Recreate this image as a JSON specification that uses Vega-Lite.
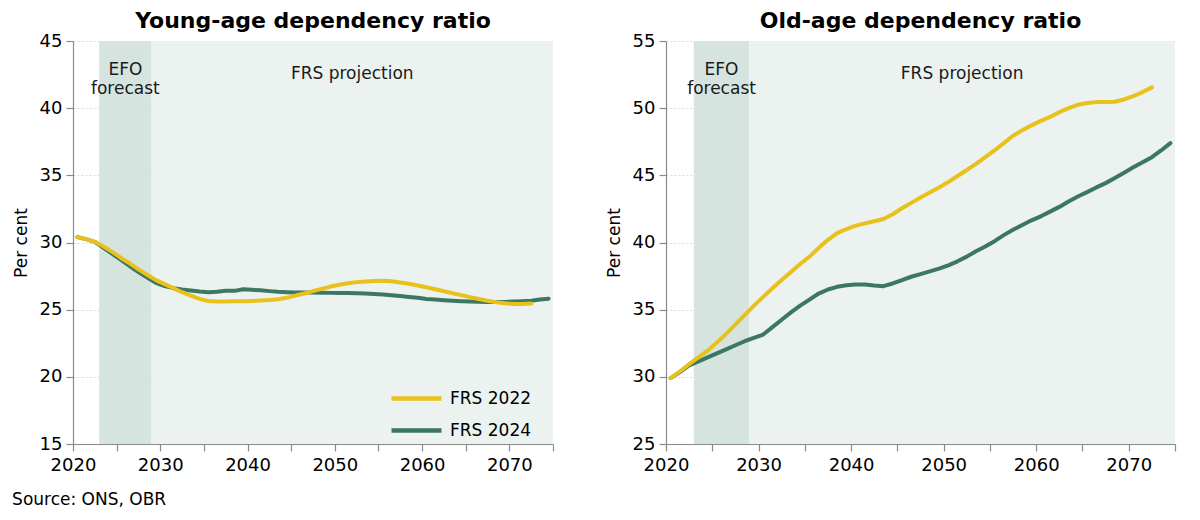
{
  "$schema": "https://vega.github.io/schema/vega-lite/v6.json",
  "background": "white",
  "padding": {"left": 12, "top": 10, "right": 14, "bottom": 4},
  "title": {"text": "Source: ONS, OBR", "orient": "bottom", "anchor": "start", "frame": "bounds", "fontSize": 17, "fontWeight": "normal", "font": "DejaVu Sans", "color": "#000000", "offset": 18},
  "datasets": {
    "bands": [
      {"band": "EFO forecast", "start": 2023, "end": 2029},
      {"band": "FRS projection", "start": 2029, "end": 2075}
    ],
    "labels": [
      {"label": ["EFO", "forecast"], "year": 2026, "young": 42.85, "old": 52.85},
      {"label": ["FRS projection"], "year": 2052, "young": 42.55, "old": 52.55}
    ],
    "young": [
      {"series": "FRS 2024", "year": 2020.5, "value": 30.4},
      {"series": "FRS 2024", "year": 2021.5, "value": 30.25},
      {"series": "FRS 2024", "year": 2022.5, "value": 30.05},
      {"series": "FRS 2024", "year": 2023.5, "value": 29.6},
      {"series": "FRS 2024", "year": 2024.5, "value": 29.15},
      {"series": "FRS 2024", "year": 2025.5, "value": 28.7},
      {"series": "FRS 2024", "year": 2026.5, "value": 28.25},
      {"series": "FRS 2024", "year": 2027.5, "value": 27.8},
      {"series": "FRS 2024", "year": 2028.5, "value": 27.4},
      {"series": "FRS 2024", "year": 2029.5, "value": 27.0},
      {"series": "FRS 2024", "year": 2030.5, "value": 26.75},
      {"series": "FRS 2024", "year": 2031.5, "value": 26.6},
      {"series": "FRS 2024", "year": 2032.5, "value": 26.5},
      {"series": "FRS 2024", "year": 2033.5, "value": 26.42},
      {"series": "FRS 2024", "year": 2034.5, "value": 26.35},
      {"series": "FRS 2024", "year": 2035.5, "value": 26.3},
      {"series": "FRS 2024", "year": 2036.5, "value": 26.33},
      {"series": "FRS 2024", "year": 2037.5, "value": 26.4},
      {"series": "FRS 2024", "year": 2038.5, "value": 26.4},
      {"series": "FRS 2024", "year": 2039.5, "value": 26.52},
      {"series": "FRS 2024", "year": 2040.5, "value": 26.48},
      {"series": "FRS 2024", "year": 2041.5, "value": 26.44},
      {"series": "FRS 2024", "year": 2042.5, "value": 26.38},
      {"series": "FRS 2024", "year": 2043.5, "value": 26.33},
      {"series": "FRS 2024", "year": 2044.5, "value": 26.3},
      {"series": "FRS 2024", "year": 2045.5, "value": 26.28},
      {"series": "FRS 2024", "year": 2046.5, "value": 26.28},
      {"series": "FRS 2024", "year": 2047.5, "value": 26.27},
      {"series": "FRS 2024", "year": 2048.5, "value": 26.26},
      {"series": "FRS 2024", "year": 2049.5, "value": 26.25},
      {"series": "FRS 2024", "year": 2050.5, "value": 26.25},
      {"series": "FRS 2024", "year": 2051.5, "value": 26.24},
      {"series": "FRS 2024", "year": 2052.5, "value": 26.22},
      {"series": "FRS 2024", "year": 2053.5, "value": 26.2},
      {"series": "FRS 2024", "year": 2054.5, "value": 26.17},
      {"series": "FRS 2024", "year": 2055.5, "value": 26.13},
      {"series": "FRS 2024", "year": 2056.5, "value": 26.08},
      {"series": "FRS 2024", "year": 2057.5, "value": 26.02},
      {"series": "FRS 2024", "year": 2058.5, "value": 25.95},
      {"series": "FRS 2024", "year": 2059.5, "value": 25.88},
      {"series": "FRS 2024", "year": 2060.5, "value": 25.8},
      {"series": "FRS 2024", "year": 2061.5, "value": 25.75},
      {"series": "FRS 2024", "year": 2062.5, "value": 25.7},
      {"series": "FRS 2024", "year": 2063.5, "value": 25.66},
      {"series": "FRS 2024", "year": 2064.5, "value": 25.63},
      {"series": "FRS 2024", "year": 2065.5, "value": 25.6},
      {"series": "FRS 2024", "year": 2066.5, "value": 25.58},
      {"series": "FRS 2024", "year": 2067.5, "value": 25.57},
      {"series": "FRS 2024", "year": 2068.5, "value": 25.57},
      {"series": "FRS 2024", "year": 2069.5, "value": 25.58},
      {"series": "FRS 2024", "year": 2070.5, "value": 25.6},
      {"series": "FRS 2024", "year": 2071.5, "value": 25.63},
      {"series": "FRS 2024", "year": 2072.5, "value": 25.67},
      {"series": "FRS 2024", "year": 2073.5, "value": 25.75},
      {"series": "FRS 2024", "year": 2074.5, "value": 25.82},
      {"series": "FRS 2022", "year": 2020.5, "value": 30.4},
      {"series": "FRS 2022", "year": 2021.5, "value": 30.25},
      {"series": "FRS 2022", "year": 2022.5, "value": 30.05},
      {"series": "FRS 2022", "year": 2023.5, "value": 29.7},
      {"series": "FRS 2022", "year": 2024.5, "value": 29.3},
      {"series": "FRS 2022", "year": 2025.5, "value": 28.85},
      {"series": "FRS 2022", "year": 2026.5, "value": 28.45},
      {"series": "FRS 2022", "year": 2027.5, "value": 28.0},
      {"series": "FRS 2022", "year": 2028.5, "value": 27.6},
      {"series": "FRS 2022", "year": 2029.5, "value": 27.2},
      {"series": "FRS 2022", "year": 2030.5, "value": 26.9},
      {"series": "FRS 2022", "year": 2031.5, "value": 26.6},
      {"series": "FRS 2022", "year": 2032.5, "value": 26.3},
      {"series": "FRS 2022", "year": 2033.5, "value": 26.05},
      {"series": "FRS 2022", "year": 2034.5, "value": 25.8},
      {"series": "FRS 2022", "year": 2035.5, "value": 25.65},
      {"series": "FRS 2022", "year": 2036.5, "value": 25.6},
      {"series": "FRS 2022", "year": 2037.5, "value": 25.6},
      {"series": "FRS 2022", "year": 2038.5, "value": 25.62},
      {"series": "FRS 2022", "year": 2039.5, "value": 25.63},
      {"series": "FRS 2022", "year": 2040.5, "value": 25.65},
      {"series": "FRS 2022", "year": 2041.5, "value": 25.68},
      {"series": "FRS 2022", "year": 2042.5, "value": 25.72},
      {"series": "FRS 2022", "year": 2043.5, "value": 25.78},
      {"series": "FRS 2022", "year": 2044.5, "value": 25.88},
      {"series": "FRS 2022", "year": 2045.5, "value": 26.05},
      {"series": "FRS 2022", "year": 2046.5, "value": 26.2},
      {"series": "FRS 2022", "year": 2047.5, "value": 26.38},
      {"series": "FRS 2022", "year": 2048.5, "value": 26.55},
      {"series": "FRS 2022", "year": 2049.5, "value": 26.72},
      {"series": "FRS 2022", "year": 2050.5, "value": 26.85},
      {"series": "FRS 2022", "year": 2051.5, "value": 26.97},
      {"series": "FRS 2022", "year": 2052.5, "value": 27.05},
      {"series": "FRS 2022", "year": 2053.5, "value": 27.1},
      {"series": "FRS 2022", "year": 2054.5, "value": 27.14},
      {"series": "FRS 2022", "year": 2055.5, "value": 27.15},
      {"series": "FRS 2022", "year": 2056.5, "value": 27.12},
      {"series": "FRS 2022", "year": 2057.5, "value": 27.03},
      {"series": "FRS 2022", "year": 2058.5, "value": 26.93},
      {"series": "FRS 2022", "year": 2059.5, "value": 26.8},
      {"series": "FRS 2022", "year": 2060.5, "value": 26.67},
      {"series": "FRS 2022", "year": 2061.5, "value": 26.52},
      {"series": "FRS 2022", "year": 2062.5, "value": 26.37},
      {"series": "FRS 2022", "year": 2063.5, "value": 26.22},
      {"series": "FRS 2022", "year": 2064.5, "value": 26.08},
      {"series": "FRS 2022", "year": 2065.5, "value": 25.93},
      {"series": "FRS 2022", "year": 2066.5, "value": 25.8},
      {"series": "FRS 2022", "year": 2067.5, "value": 25.67},
      {"series": "FRS 2022", "year": 2068.5, "value": 25.55},
      {"series": "FRS 2022", "year": 2069.5, "value": 25.47},
      {"series": "FRS 2022", "year": 2070.5, "value": 25.43},
      {"series": "FRS 2022", "year": 2071.5, "value": 25.42},
      {"series": "FRS 2022", "year": 2072.5, "value": 25.45}
    ],
    "old": [
      {"series": "FRS 2024", "year": 2020.5, "value": 29.9},
      {"series": "FRS 2024", "year": 2021.5, "value": 30.35},
      {"series": "FRS 2024", "year": 2022.5, "value": 30.85},
      {"series": "FRS 2024", "year": 2023.5, "value": 31.15},
      {"series": "FRS 2024", "year": 2024.5, "value": 31.45},
      {"series": "FRS 2024", "year": 2025.5, "value": 31.75},
      {"series": "FRS 2024", "year": 2026.5, "value": 32.05},
      {"series": "FRS 2024", "year": 2027.5, "value": 32.35},
      {"series": "FRS 2024", "year": 2028.5, "value": 32.65},
      {"series": "FRS 2024", "year": 2029.5, "value": 32.9},
      {"series": "FRS 2024", "year": 2030.5, "value": 33.15},
      {"series": "FRS 2024", "year": 2031.5, "value": 33.7},
      {"series": "FRS 2024", "year": 2032.5, "value": 34.25},
      {"series": "FRS 2024", "year": 2033.5, "value": 34.8},
      {"series": "FRS 2024", "year": 2034.5, "value": 35.3},
      {"series": "FRS 2024", "year": 2035.5, "value": 35.75},
      {"series": "FRS 2024", "year": 2036.5, "value": 36.2},
      {"series": "FRS 2024", "year": 2037.5, "value": 36.5},
      {"series": "FRS 2024", "year": 2038.5, "value": 36.7},
      {"series": "FRS 2024", "year": 2039.5, "value": 36.82},
      {"series": "FRS 2024", "year": 2040.5, "value": 36.87},
      {"series": "FRS 2024", "year": 2041.5, "value": 36.88},
      {"series": "FRS 2024", "year": 2042.5, "value": 36.8},
      {"series": "FRS 2024", "year": 2043.5, "value": 36.75},
      {"series": "FRS 2024", "year": 2044.5, "value": 36.95},
      {"series": "FRS 2024", "year": 2045.5, "value": 37.2},
      {"series": "FRS 2024", "year": 2046.5, "value": 37.45},
      {"series": "FRS 2024", "year": 2047.5, "value": 37.65},
      {"series": "FRS 2024", "year": 2048.5, "value": 37.85},
      {"series": "FRS 2024", "year": 2049.5, "value": 38.05},
      {"series": "FRS 2024", "year": 2050.5, "value": 38.3},
      {"series": "FRS 2024", "year": 2051.5, "value": 38.6},
      {"series": "FRS 2024", "year": 2052.5, "value": 38.95},
      {"series": "FRS 2024", "year": 2053.5, "value": 39.35},
      {"series": "FRS 2024", "year": 2054.5, "value": 39.7},
      {"series": "FRS 2024", "year": 2055.5, "value": 40.1},
      {"series": "FRS 2024", "year": 2056.5, "value": 40.55},
      {"series": "FRS 2024", "year": 2057.5, "value": 40.95},
      {"series": "FRS 2024", "year": 2058.5, "value": 41.3},
      {"series": "FRS 2024", "year": 2059.5, "value": 41.65},
      {"series": "FRS 2024", "year": 2060.5, "value": 41.95},
      {"series": "FRS 2024", "year": 2061.5, "value": 42.3},
      {"series": "FRS 2024", "year": 2062.5, "value": 42.65},
      {"series": "FRS 2024", "year": 2063.5, "value": 43.05},
      {"series": "FRS 2024", "year": 2064.5, "value": 43.42},
      {"series": "FRS 2024", "year": 2065.5, "value": 43.75},
      {"series": "FRS 2024", "year": 2066.5, "value": 44.1},
      {"series": "FRS 2024", "year": 2067.5, "value": 44.42},
      {"series": "FRS 2024", "year": 2068.5, "value": 44.8},
      {"series": "FRS 2024", "year": 2069.5, "value": 45.2},
      {"series": "FRS 2024", "year": 2070.5, "value": 45.6},
      {"series": "FRS 2024", "year": 2071.5, "value": 45.98},
      {"series": "FRS 2024", "year": 2072.5, "value": 46.35},
      {"series": "FRS 2024", "year": 2073.5, "value": 46.85},
      {"series": "FRS 2024", "year": 2074.5, "value": 47.4},
      {"series": "FRS 2022", "year": 2020.5, "value": 29.9},
      {"series": "FRS 2022", "year": 2021.5, "value": 30.4},
      {"series": "FRS 2022", "year": 2022.5, "value": 30.95},
      {"series": "FRS 2022", "year": 2023.5, "value": 31.45},
      {"series": "FRS 2022", "year": 2024.5, "value": 31.95},
      {"series": "FRS 2022", "year": 2025.5, "value": 32.55},
      {"series": "FRS 2022", "year": 2026.5, "value": 33.2},
      {"series": "FRS 2022", "year": 2027.5, "value": 33.9},
      {"series": "FRS 2022", "year": 2028.5, "value": 34.6},
      {"series": "FRS 2022", "year": 2029.5, "value": 35.3},
      {"series": "FRS 2022", "year": 2030.5, "value": 35.95},
      {"series": "FRS 2022", "year": 2031.5, "value": 36.6},
      {"series": "FRS 2022", "year": 2032.5, "value": 37.2},
      {"series": "FRS 2022", "year": 2033.5, "value": 37.8},
      {"series": "FRS 2022", "year": 2034.5, "value": 38.4},
      {"series": "FRS 2022", "year": 2035.5, "value": 38.95},
      {"series": "FRS 2022", "year": 2036.5, "value": 39.6},
      {"series": "FRS 2022", "year": 2037.5, "value": 40.2},
      {"series": "FRS 2022", "year": 2038.5, "value": 40.7},
      {"series": "FRS 2022", "year": 2039.5, "value": 41.0},
      {"series": "FRS 2022", "year": 2040.5, "value": 41.25},
      {"series": "FRS 2022", "year": 2041.5, "value": 41.42},
      {"series": "FRS 2022", "year": 2042.5, "value": 41.58},
      {"series": "FRS 2022", "year": 2043.5, "value": 41.75},
      {"series": "FRS 2022", "year": 2044.5, "value": 42.1},
      {"series": "FRS 2022", "year": 2045.5, "value": 42.55},
      {"series": "FRS 2022", "year": 2046.5, "value": 42.95},
      {"series": "FRS 2022", "year": 2047.5, "value": 43.35},
      {"series": "FRS 2022", "year": 2048.5, "value": 43.72},
      {"series": "FRS 2022", "year": 2049.5, "value": 44.1},
      {"series": "FRS 2022", "year": 2050.5, "value": 44.5},
      {"series": "FRS 2022", "year": 2051.5, "value": 44.95},
      {"series": "FRS 2022", "year": 2052.5, "value": 45.4},
      {"series": "FRS 2022", "year": 2053.5, "value": 45.85},
      {"series": "FRS 2022", "year": 2054.5, "value": 46.35},
      {"series": "FRS 2022", "year": 2055.5, "value": 46.85},
      {"series": "FRS 2022", "year": 2056.5, "value": 47.4},
      {"series": "FRS 2022", "year": 2057.5, "value": 47.95},
      {"series": "FRS 2022", "year": 2058.5, "value": 48.35},
      {"series": "FRS 2022", "year": 2059.5, "value": 48.72},
      {"series": "FRS 2022", "year": 2060.5, "value": 49.05},
      {"series": "FRS 2022", "year": 2061.5, "value": 49.35},
      {"series": "FRS 2022", "year": 2062.5, "value": 49.7},
      {"series": "FRS 2022", "year": 2063.5, "value": 50.0},
      {"series": "FRS 2022", "year": 2064.5, "value": 50.25},
      {"series": "FRS 2022", "year": 2065.5, "value": 50.38},
      {"series": "FRS 2022", "year": 2066.5, "value": 50.45},
      {"series": "FRS 2022", "year": 2067.5, "value": 50.46},
      {"series": "FRS 2022", "year": 2068.5, "value": 50.48},
      {"series": "FRS 2022", "year": 2069.5, "value": 50.65},
      {"series": "FRS 2022", "year": 2070.5, "value": 50.9},
      {"series": "FRS 2022", "year": 2071.5, "value": 51.2},
      {"series": "FRS 2022", "year": 2072.5, "value": 51.55}
    ]
  },
  "spacing": 51,
  "resolve": {"scale": {"color": "independent", "fill": "independent"}},
  "hconcat": [
    {
      "width": 480,
      "height": 403,
      "title": {"text": "Young-age dependency ratio"},
      "layer": [
        {
          "data": {"name": "bands"},
          "mark": {"type": "rect"},
          "encoding": {
            "x": {"field": "start", "type": "quantitative", "scale": {"domain": [2020, 2075], "nice": false, "zero": false},
                  "axis": {"values": [2020, 2025, 2030, 2035, 2040, 2045, 2050, 2055, 2060, 2065, 2070, 2075], "labelExpr": "datum.value % 10 === 0 && datum.value < 2075 ? datum.value : ''", "grid": false, "title": null, "labelFlush": false}},
            "x2": {"field": "end"},
            "fill": {"field": "band", "type": "nominal", "scale": {"domain": ["EFO forecast", "FRS projection"], "range": ["#D6E4E0", "#EBF2F0"]}, "legend": null}
          }
        },
        {
          "data": {"name": "labels"},
          "mark": {"type": "text", "fontSize": 17, "font": "DejaVu Sans", "color": "#1a1a1a", "lineHeight": 19, "baseline": "middle", "align": "center"},
          "encoding": {
            "x": {"field": "year", "type": "quantitative"},
            "y": {"field": "young", "type": "quantitative"},
            "text": {"field": "label"}
          }
        },
        {
          "data": {"name": "young"},
          "mark": {"type": "line", "strokeWidth": 4, "strokeCap": "round", "strokeJoin": "round"},
          "encoding": {
            "x": {"field": "year", "type": "quantitative"},
            "y": {"field": "value", "type": "quantitative", "scale": {"domain": [15, 45], "nice": false, "zero": false},
                  "axis": {"values": [15, 20, 25, 30, 35, 40, 45], "title": "Per cent", "grid": true}},
            "color": {"field": "series", "type": "nominal", "scale": {"domain": ["FRS 2022", "FRS 2024"], "range": ["#E9C11C", "#3C7762"]},
                      "legend": {"orient": "none", "legendX": 331, "legendY": 345, "title": null}}
          }
        }
      ]
    },
    {
      "width": 509,
      "height": 403,
      "title": {"text": "Old-age dependency ratio"},
      "layer": [
        {
          "data": {"name": "bands"},
          "mark": {"type": "rect"},
          "encoding": {
            "x": {"field": "start", "type": "quantitative", "scale": {"domain": [2020, 2075], "nice": false, "zero": false},
                  "axis": {"values": [2020, 2025, 2030, 2035, 2040, 2045, 2050, 2055, 2060, 2065, 2070, 2075], "labelExpr": "datum.value % 10 === 0 && datum.value < 2075 ? datum.value : ''", "grid": false, "title": null, "labelFlush": false}},
            "x2": {"field": "end"},
            "fill": {"field": "band", "type": "nominal", "scale": {"domain": ["EFO forecast", "FRS projection"], "range": ["#D6E4E0", "#EBF2F0"]}, "legend": null}
          }
        },
        {
          "data": {"name": "labels"},
          "mark": {"type": "text", "fontSize": 17, "font": "DejaVu Sans", "color": "#1a1a1a", "lineHeight": 19, "baseline": "middle", "align": "center"},
          "encoding": {
            "x": {"field": "year", "type": "quantitative"},
            "y": {"field": "old", "type": "quantitative"},
            "text": {"field": "label"}
          }
        },
        {
          "data": {"name": "old"},
          "mark": {"type": "line", "strokeWidth": 4, "strokeCap": "round", "strokeJoin": "round"},
          "encoding": {
            "x": {"field": "year", "type": "quantitative"},
            "y": {"field": "value", "type": "quantitative", "scale": {"domain": [25, 55], "nice": false, "zero": false},
                  "axis": {"values": [25, 30, 35, 40, 45, 50, 55], "title": "Per cent", "grid": true}},
            "color": {"field": "series", "type": "nominal", "scale": {"domain": ["FRS 2022", "FRS 2024"], "range": ["#E9C11C", "#3C7762"]}, "legend": null}
          }
        }
      ]
    }
  ],
  "config": {
    "font": "DejaVu Sans",
    "view": {"stroke": null},
    "title": {"fontSize": 22, "fontWeight": "bold", "font": "DejaVu Sans", "color": "#000000", "offset": -1},
    "axis": {"labelFont": "DejaVu Sans", "labelFontSize": 18, "labelColor": "#000000", "titleFont": "DejaVu Sans", "titleFontSize": 17, "titleFontWeight": "normal", "titleColor": "#000000", "domainColor": "#8a8a8a", "tickColor": "#8a8a8a", "tickSize": 7, "domainWidth": 1.2, "tickWidth": 1.2, "gridColor": "#d0d0d0", "gridDash": [2, 2], "gridWidth": 0.8, "labelPadding": 4},
    "axisY": {"titlePadding": 9, "zindex": 1},
    "axisX": {"labelPadding": 5},
    "legend": {"labelFont": "DejaVu Sans", "labelFontSize": 17, "labelColor": "#000000", "symbolType": "M-2.5,0H2.5", "symbolStrokeWidth": 4.5, "symbolSize": 400, "rowPadding": 10, "labelOffset": 21}
  }
}
